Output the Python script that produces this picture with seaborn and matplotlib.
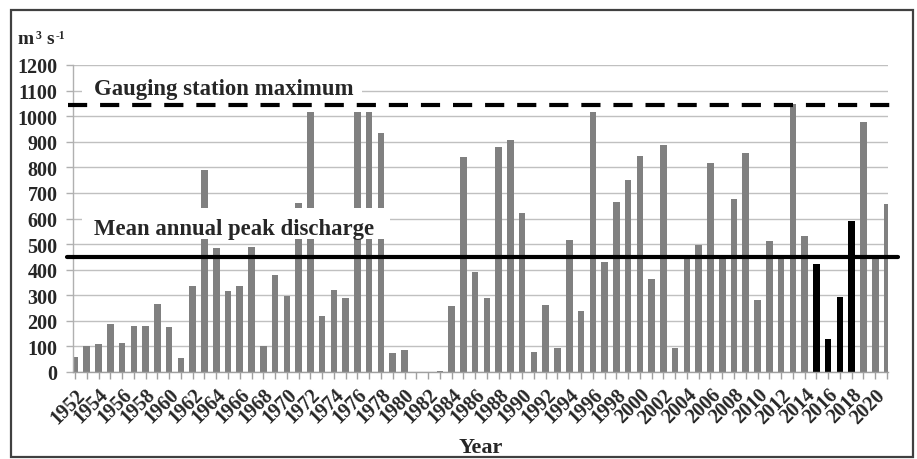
import numpy as np
import pandas as pd
import matplotlib
matplotlib.use("Agg")
import matplotlib.pyplot as plt
from matplotlib.patches import Rectangle
from matplotlib.lines import Line2D
import seaborn as sns

years = list(range(1952, 2022))
discharge = [60, 100, 108, 186, 115, 180, 180, 265, 177, 55,
             335, 790, 485, 316, 338, 490, 100, 378, 297, 660,
             1015, 220, 320, 290, 1015, 1015, 935, 75, 85, 0,
             0, 5, 258, 840, 390, 290, 880, 905, 620, 80,
             262, 92, 515, 238, 1015, 430, 665, 752, 845, 362,
             888, 92, 450, 498, 815, 450, 675, 855, 280, 513,
             450, 1048, 530, 421, 130, 295, 590, 978, 450, 658]
highlight_years = [2015, 2016, 2017, 2018]
mean_peak = 450
gauge_max = 1045
y_ticks = list(range(0, 1201, 100))

sns.set_theme(style="white")
serif = ["Liberation Serif", "DejaVu Serif"]
plt.rcParams["font.family"] = serif
plt.rcParams["font.weight"] = "bold"

df = pd.DataFrame({
    "Year": [str(y) for y in years],
    "Q": discharge,
    "grp": ["hi" if y in highlight_years else "base" for y in years],
})

W, H = 917, 460
fig = plt.figure(figsize=(W / 100, H / 100), dpi=100)
ax_l, ax_r, ax_t, ax_b = 73, 888, 66, 373
ax = fig.add_axes([ax_l / W, 1 - ax_b / H, (ax_r - ax_l) / W, (ax_b - ax_t) / H])

sns.barplot(data=df, x="Year", y="Q", hue="grp",
            palette={"base": "#808080", "hi": "#000000"},
            dodge=False, width=0.56, legend=False, ax=ax, zorder=2,
            saturation=1, linewidth=0)

n = len(years)
step = (887 - 75) / (n - 1)
ax.set_xlim(-(75 - ax_l) / step, (n - 1) + (ax_r - 887) / step)
ax.set_ylim(0, 1200)
ax.set_yticks(y_ticks)
ax.set_yticklabels([str(v) for v in y_ticks], fontsize=14.5, fontweight="bold")
ax.set_xticks(range(n))
ax.set_xticklabels([str(y) if (y - 1952) % 2 == 0 else "" for y in years],
                   rotation=45, ha="right", rotation_mode="anchor",
                   fontsize=14.5, fontweight="bold")
ax.tick_params(axis="x", length=5, width=1, color="#a0a0a0", pad=4, direction="out", bottom=True)
ax.tick_params(axis="y", length=5, width=1, color="#b0b0b0", pad=6, direction="out", left=True)

ax.grid(axis="y", color="#c0c0c0", linewidth=1, zorder=0)
ax.set_axisbelow(True)
for s in ["top", "right"]:
    ax.spines[s].set_visible(False)
ax.spines["left"].set_color("#b0b0b0")
ax.spines["bottom"].set_color("#a0a0a0")
ax.spines["left"].set_linewidth(1)
ax.spines["bottom"].set_linewidth(1)
ax.set_xlabel("")
ax.set_ylabel("")

# white label boxes
def px_to_x(px):
    return ax.get_xlim()[0] + (px - ax_l) / step

ax.add_patch(Rectangle((px_to_x(82), 520), px_to_x(390) - px_to_x(82), 120,
                       facecolor="white", edgecolor="none", zorder=3))
ax.add_patch(Rectangle((px_to_x(82), 1065), px_to_x(362) - px_to_x(82), 80,
                       facecolor="white", edgecolor="none", zorder=3))

ax.text(px_to_x(94), 560, "Mean annual peak discharge", fontsize=16.4,
        fontweight="bold", va="center", ha="left", zorder=4)
ax.text(px_to_x(94), 1108, "Gauging station maximum", fontsize=16.4,
        fontweight="bold", va="center", ha="left", zorder=4)

# reference lines extending slightly outside the axes
span = ax_r - ax_l
ax.add_line(Line2D([-6 / span, 1 + 10 / span], [mean_peak, mean_peak],
                   transform=ax.get_yaxis_transform(), color="black",
                   linewidth=3, clip_on=False, zorder=5))
ax.add_line(Line2D([-5 / span, 1 + 10 / span], [gauge_max, gauge_max],
                   transform=ax.get_yaxis_transform(), color="black",
                   linewidth=3, linestyle=(0, (4.6, 3.1)), clip_on=False, zorder=5))

# unit label m3 s-1 with small raised exponents
base_y = 1 - 44 / H
fig.text(18 / W, base_y, "m", fontsize=14, fontweight="bold", ha="left", va="baseline", family=serif)
fig.text(35.5 / W, base_y + 5 / H, "3", fontsize=8.5, fontweight="bold", ha="left", va="baseline", family=serif)
fig.text(46.5 / W, base_y, "s", fontsize=14, fontweight="bold", ha="left", va="baseline", family=serif)
fig.text(55.5 / W, base_y + 5 / H, "-1", fontsize=8.5, fontweight="bold", ha="left", va="baseline", family=serif)

fig.text(481 / W, 1 - 448 / H, "Year", fontsize=16, fontweight="bold",
         ha="center", va="center", family=serif)

fig.add_artist(Rectangle((11 / W, 1 - 458 / H), (913 - 11) / W, (458 - 11) / H,
                         transform=fig.transFigure, facecolor="none",
                         edgecolor="#404040", linewidth=1.6))

fig.savefig("out.png", dpi=100)
